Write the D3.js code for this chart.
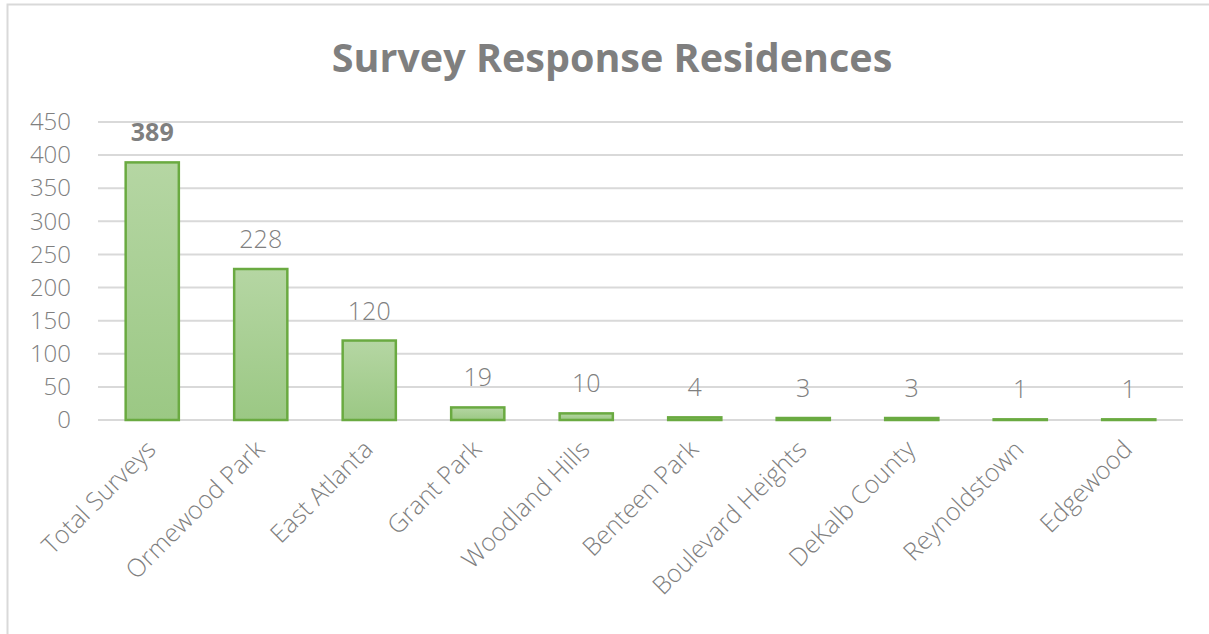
<!DOCTYPE html>
<html>
<head>
<meta charset="utf-8">
<script src="https://cdn.jsdelivr.net/npm/d3@7"></script>
<style>
  body { margin: 0; background: #fff; }
  text { font-family: "Open Sans", "Noto Sans", sans-serif; }
</style>
</head>
<body>
<div id="chart"></div>
<script>
// chart data
var categories = ["Total Surveys", "Ormewood Park", "East Atlanta", "Grant Park", "Woodland Hills",
  "Benteen Park", "Boulevard Heights", "DeKalb County", "Reynoldstown", "Edgewood"];
var responses = [389, 228, 120, 19, 10, 4, 3, 3, 1, 1];
var yTicks = [0, 50, 100, 150, 200, 250, 300, 350, 400, 450];

var svgWidth = 1209;
var svgHeight = 634;

var margin = { top: 122, right: 26, bottom: 214, left: 98 };
var width = svgWidth - margin.left - margin.right;
var height = svgHeight - margin.top - margin.bottom;

var svg = d3.select("#chart")
  .append("svg")
  .attr("width", svgWidth)
  .attr("height", svgHeight);

// gradient for the bars
var grad = svg.append("defs").append("linearGradient")
  .attr("id", "barFill")
  .attr("x1", 0).attr("y1", 0).attr("x2", 0).attr("y2", 1);
grad.append("stop").attr("offset", "0%").attr("stop-color", "#b5d6a3");
grad.append("stop").attr("offset", "100%").attr("stop-color", "#9bc884");

// outer frame
svg.append("rect")
  .attr("x", 7.5).attr("y", 4.5)
  .attr("width", svgWidth + 10).attr("height", svgHeight + 10)
  .attr("fill", "none")
  .attr("stroke", "#d9d9d9")
  .attr("stroke-width", 2);

// title
svg.append("text")
  .attr("x", 612)
  .attr("y", 72)
  .attr("text-anchor", "middle")
  .attr("font-size", "39.5px")
  .attr("font-weight", "bold")
  .attr("fill", "#7f7f7f")
  .text("Survey Response Residences");

var chartGroup = svg.append("g")
  .attr("transform", `translate(${margin.left}, ${margin.top})`);

var xBandScale = d3.scaleBand()
  .domain(categories)
  .range([0, width])
  .paddingInner(0.51)
  .paddingOuter(0.255);

var yLinearScale = d3.scaleLinear()
  .domain([0, 450])
  .range([height, 0]);

// gridlines
chartGroup.append("g")
  .selectAll("line")
  .data(yTicks)
  .enter()
  .append("line")
  .attr("x1", 0)
  .attr("x2", width)
  .attr("y1", d => yLinearScale(d))
  .attr("y2", d => yLinearScale(d))
  .attr("stroke", "#d9d9d9")
  .attr("stroke-width", 2);

// y axis labels
var leftAxis = d3.axisLeft(yLinearScale).tickValues(yTicks).tickSize(0).tickPadding(27);
var yAxis = chartGroup.append("g").call(leftAxis);
yAxis.select(".domain").remove();
yAxis.selectAll("text")
  .attr("font-size", "24px")
  .attr("font-family", "'Open Sans', sans-serif")
  .attr("font-weight", 300)
  .attr("fill", "#7f7f7f");

// bars
chartGroup.selectAll("rect.bar")
  .data(responses)
  .enter()
  .append("rect")
  .attr("class", "bar")
  .attr("x", (d, i) => xBandScale(categories[i]))
  .attr("y", d => yLinearScale(d))
  .attr("width", xBandScale.bandwidth())
  .attr("height", d => height - yLinearScale(d))
  .attr("fill", "url(#barFill)")
  .attr("stroke", "#6aaa41")
  .attr("stroke-width", 2.5);

// value labels
chartGroup.selectAll("text.value")
  .data(responses)
  .enter()
  .append("text")
  .attr("class", "value")
  .attr("x", (d, i) => xBandScale(categories[i]) + xBandScale.bandwidth() / 2)
  .attr("y", d => yLinearScale(d) - 21)
  .attr("text-anchor", "middle")
  .attr("font-size", "25px")
  .attr("font-weight", (d, i) => i === 0 ? "bold" : 300)
  .attr("fill", "#7f7f7f")
  .text(d => d);

// x axis labels
var bottomAxis = d3.axisBottom(xBandScale).tickSize(0).tickPadding(0);
var xAxis = chartGroup.append("g")
  .attr("transform", `translate(0, ${height})`)
  .call(bottomAxis);
xAxis.select(".domain").remove();
xAxis.selectAll("text")
  .attr("font-size", "25px")
  .attr("font-family", "'Open Sans', sans-serif")
  .attr("font-weight", 300)
  .attr("fill", "#7f7f7f")
  .attr("text-anchor", "end")
  .attr("dy", "0")
  .attr("transform", "translate(5, 31) rotate(-45)");
</script>
</body>
</html>
